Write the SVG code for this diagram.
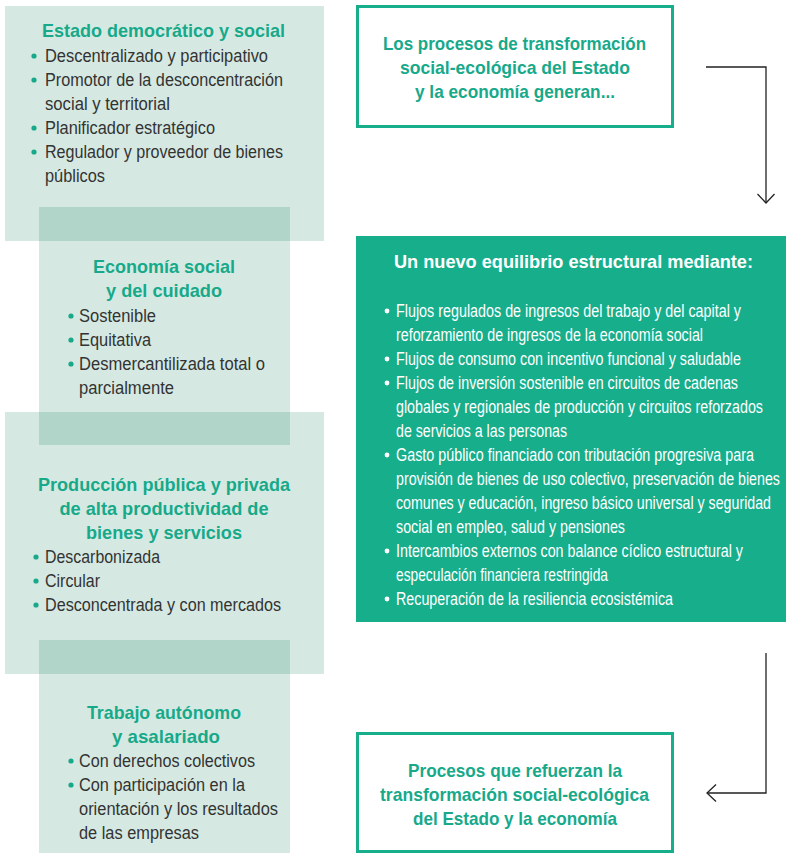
<svg xmlns="http://www.w3.org/2000/svg" width="786" height="853" viewBox="0 0 786 853">
<defs>
<style>
.panel{fill:#d5e9e2}
.ov{fill:#b1d6c9}
text{font-family:"Liberation Sans",Arial,sans-serif}
.ttl{font-weight:bold;font-size:18.5px;fill:#17a98a;text-anchor:middle}
.txt{font-size:17.5px;fill:#333333}
.wt{font-size:17.5px;fill:#ffffff}
.wtt{font-weight:bold;font-size:18.5px;fill:#ffffff;text-anchor:middle}
.dot{fill:#17a98a}
.wdot{fill:#ffffff}
.box{fill:#ffffff;stroke:#17ae8c;stroke-width:3}
.conn{fill:none;stroke:#222222;stroke-width:1.3}
</style>
<marker id="ah" markerWidth="20" markerHeight="20" viewBox="-10 -10 20 20" refX="0" refY="0" orient="auto" markerUnits="userSpaceOnUse">
<path d="M-9,-8.5 L0,0 L-9,8.5" fill="none" stroke="#222222" stroke-width="1.3"/>
</marker>
</defs>

<g id="panels-bg">
<rect class="panel" x="5" y="6" width="319" height="235"/>
<rect class="panel" x="39" y="207" width="251" height="238"/>
<rect class="panel" x="5" y="412" width="319" height="262"/>
<rect class="panel" x="39" y="640" width="251" height="213"/>
<rect class="ov" x="39" y="207" width="251" height="34"/>
<rect class="ov" x="39" y="412" width="251" height="33"/>
<rect class="ov" x="39" y="640" width="251" height="34"/>
</g>

<g id="estado">
<text class="ttl" x="163.5" y="37" textLength="243" lengthAdjust="spacingAndGlyphs">Estado democrático y social</text>
<circle class="dot" cx="34" cy="56" r="2.6"/>
<text class="txt" x="45" y="62" textLength="223" lengthAdjust="spacingAndGlyphs">Descentralizado y participativo</text>
<circle class="dot" cx="34" cy="80" r="2.6"/>
<text class="txt" x="45" y="86" textLength="238" lengthAdjust="spacingAndGlyphs">Promotor de la desconcentración</text>
<text class="txt" x="45" y="110" textLength="125" lengthAdjust="spacingAndGlyphs">social y territorial</text>
<circle class="dot" cx="34" cy="128" r="2.6"/>
<text class="txt" x="45" y="134" textLength="170" lengthAdjust="spacingAndGlyphs">Planificador estratégico</text>
<circle class="dot" cx="34" cy="152" r="2.6"/>
<text class="txt" x="45" y="158" textLength="238" lengthAdjust="spacingAndGlyphs">Regulador y proveedor de bienes</text>
<text class="txt" x="45" y="182" textLength="60" lengthAdjust="spacingAndGlyphs">públicos</text>
</g>

<g id="economia">
<text class="ttl" x="164" y="273" textLength="142" lengthAdjust="spacingAndGlyphs">Economía social</text>
<text class="ttl" x="164" y="297" textLength="116" lengthAdjust="spacingAndGlyphs">y del cuidado</text>
<circle class="dot" cx="71" cy="316" r="2.6"/>
<text class="txt" x="79" y="322" textLength="77" lengthAdjust="spacingAndGlyphs">Sostenible</text>
<circle class="dot" cx="71" cy="340" r="2.6"/>
<text class="txt" x="79" y="346" textLength="72" lengthAdjust="spacingAndGlyphs">Equitativa</text>
<circle class="dot" cx="71" cy="364" r="2.6"/>
<text class="txt" x="79" y="370" textLength="186" lengthAdjust="spacingAndGlyphs">Desmercantilizada total o</text>
<text class="txt" x="79" y="394" textLength="95" lengthAdjust="spacingAndGlyphs">parcialmente</text>
</g>

<g id="produccion">
<text class="ttl" x="164" y="491" textLength="252" lengthAdjust="spacingAndGlyphs">Producción pública y privada</text>
<text class="ttl" x="164" y="515" textLength="209" lengthAdjust="spacingAndGlyphs">de alta productividad de</text>
<text class="ttl" x="164" y="539" textLength="156" lengthAdjust="spacingAndGlyphs">bienes y servicios</text>
<circle class="dot" cx="36" cy="557" r="2.6"/>
<text class="txt" x="45" y="563" textLength="115" lengthAdjust="spacingAndGlyphs">Descarbonizada</text>
<circle class="dot" cx="36" cy="581" r="2.6"/>
<text class="txt" x="45" y="587" textLength="55" lengthAdjust="spacingAndGlyphs">Circular</text>
<circle class="dot" cx="36" cy="605" r="2.6"/>
<text class="txt" x="45" y="611" textLength="236" lengthAdjust="spacingAndGlyphs">Desconcentrada y con mercados</text>
</g>

<g id="trabajo">
<text class="ttl" x="164" y="719" textLength="154" lengthAdjust="spacingAndGlyphs">Trabajo autónomo</text>
<text class="ttl" x="166" y="743" textLength="108" lengthAdjust="spacingAndGlyphs">y asalariado</text>
<circle class="dot" cx="71" cy="761" r="2.6"/>
<text class="txt" x="79" y="767" textLength="176" lengthAdjust="spacingAndGlyphs">Con derechos colectivos</text>
<circle class="dot" cx="71" cy="785" r="2.6"/>
<text class="txt" x="79" y="791" textLength="166" lengthAdjust="spacingAndGlyphs">Con participación en la</text>
<text class="txt" x="79" y="815" textLength="199" lengthAdjust="spacingAndGlyphs">orientación y los resultados</text>
<text class="txt" x="79" y="839" textLength="120" lengthAdjust="spacingAndGlyphs">de las empresas</text>
</g>

<g id="procesos-generan">
<rect class="box" x="357.5" y="6.5" width="315" height="120"/>
<text class="ttl" x="514.5" y="50" textLength="263" lengthAdjust="spacingAndGlyphs">Los procesos de transformación</text>
<text class="ttl" x="515" y="74" textLength="230" lengthAdjust="spacingAndGlyphs">social-ecológica del Estado</text>
<text class="ttl" x="515" y="98" textLength="200" lengthAdjust="spacingAndGlyphs">y la economía generan...</text>
</g>

<g id="equilibrio">
<rect x="356" y="236" width="430" height="386" fill="#17ae8c"/>
<text class="wtt" x="573.5" y="268" textLength="359" lengthAdjust="spacingAndGlyphs">Un nuevo equilibrio estructural mediante:</text>
<circle class="wdot" cx="387" cy="311" r="2.4"/>
<text class="wt" x="396" y="317" textLength="345" lengthAdjust="spacingAndGlyphs">Flujos regulados de ingresos del trabajo y del capital y</text>
<text class="wt" x="396" y="341" textLength="307" lengthAdjust="spacingAndGlyphs">reforzamiento de ingresos de la economía social</text>
<circle class="wdot" cx="387" cy="359" r="2.4"/>
<text class="wt" x="396" y="365" textLength="345" lengthAdjust="spacingAndGlyphs">Flujos de consumo con incentivo funcional y saludable</text>
<circle class="wdot" cx="387" cy="383" r="2.4"/>
<text class="wt" x="396" y="389" textLength="342" lengthAdjust="spacingAndGlyphs">Flujos de inversión sostenible en circuitos de cadenas</text>
<text class="wt" x="396" y="413" textLength="367" lengthAdjust="spacingAndGlyphs">globales y regionales de producción y circuitos reforzados</text>
<text class="wt" x="396" y="437" textLength="171" lengthAdjust="spacingAndGlyphs">de servicios a las personas</text>
<circle class="wdot" cx="387" cy="455" r="2.4"/>
<text class="wt" x="396" y="461" textLength="358" lengthAdjust="spacingAndGlyphs">Gasto público financiado con tributación progresiva para</text>
<text class="wt" x="396" y="485" textLength="384" lengthAdjust="spacingAndGlyphs">provisión de bienes de uso colectivo, preservación de bienes</text>
<text class="wt" x="396" y="509" textLength="375" lengthAdjust="spacingAndGlyphs">comunes y educación, ingreso básico universal y seguridad</text>
<text class="wt" x="396" y="533" textLength="229" lengthAdjust="spacingAndGlyphs">social en empleo, salud y pensiones</text>
<circle class="wdot" cx="387" cy="551" r="2.4"/>
<text class="wt" x="396" y="557" textLength="347" lengthAdjust="spacingAndGlyphs">Intercambios externos con balance cíclico estructural y</text>
<text class="wt" x="396" y="581" textLength="212" lengthAdjust="spacingAndGlyphs">especulación financiera restringida</text>
<circle class="wdot" cx="387" cy="599" r="2.4"/>
<text class="wt" x="396" y="605" textLength="277" lengthAdjust="spacingAndGlyphs">Recuperación de la resiliencia ecosistémica</text>
</g>

<g id="procesos-refuerzan">
<rect class="box" x="357.5" y="733.5" width="315" height="118"/>
<text class="ttl" x="515" y="777" textLength="214" lengthAdjust="spacingAndGlyphs">Procesos que refuerzan la</text>
<text class="ttl" x="514.5" y="801" textLength="269" lengthAdjust="spacingAndGlyphs">transformación social-ecológica</text>
<text class="ttl" x="515" y="825" textLength="204" lengthAdjust="spacingAndGlyphs">del Estado y la economía</text>
</g>

<g id="connectors">
<path class="conn" d="M706,67 H766 V203" marker-end="url(#ah)"/>
<path class="conn" d="M766,653 V793 H707" marker-end="url(#ah)"/>
</g>
</svg>
